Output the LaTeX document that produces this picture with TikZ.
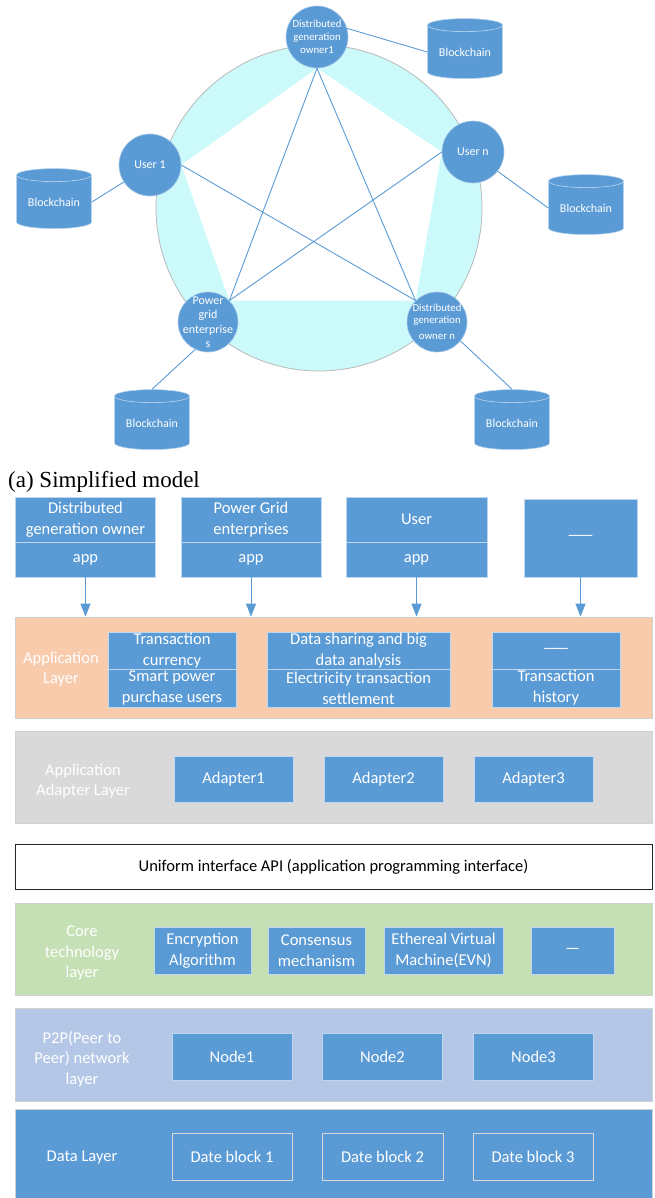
\documentclass[tikz,border=0pt]{standalone}
\usepackage{fontspec}
\setmainfont{Carlito}
\newfontfamily\capfont{Liberation Serif}
\usetikzlibrary{shapes.geometric,arrows.meta,backgrounds}
\definecolor{blu}{RGB}{91,155,213}
\definecolor{cyanfill}{RGB}{204,250,251}
\definecolor{peach}{RGB}{248,203,173}
\definecolor{grayl}{RGB}{217,217,217}
\definecolor{greenl}{RGB}{197,224,180}
\definecolor{bluel}{RGB}{180,199,231}
\definecolor{ringgray}{RGB}{185,185,185}
\newcommand{\ddash}{—\kern-3.5pt—}
\begin{document}
\begin{tikzpicture}[x=1pt,y=-1pt,
  peer/.style={circle, fill=blu, draw=blu!55!white, line width=0.6pt, minimum size=62pt, inner sep=0pt},
  peertext/.style={text=white, align=center, inner sep=0pt},
  store/.style={cylinder, shape border rotate=90, aspect=0.25, minimum width=75pt, minimum height=60pt,
     cylinder uses custom fill, cylinder body fill=blu, cylinder end fill=blu, draw=blu!45!white,
     line width=0.6pt, text=white, font=\fontsize{12}{14}\selectfont, inner sep=0pt},
  link/.style={draw=blu, line width=0.9pt},
  layer/.style={rectangle, draw=black!18, line width=0.8pt, minimum width=637pt, inner sep=0pt},
  bbox/.style={rectangle, fill=blu, draw=blu!40!white, line width=0.8pt, text=white, align=center,
     inner sep=0pt, font=\fontsize{16.5}{21}\selectfont},
  lbl/.style={text=white, align=center, inner sep=0pt, font=\fontsize{16.5}{20.5}\selectfont},
  arr/.style={draw=blu, line width=1pt, -{Triangle[width=10pt,length=13pt]}},
]
\useasboundingbox (0,0) rectangle (654,1198);

% ---------- network ----------
\node[peer, label={[peertext, font=\fontsize{10.8}{12.8}\selectfont]center:Distributed\\generation\\owner1}] (dg1) at (317,37) {};
\node[peer, label={[peertext, font=\fontsize{12}{14}\selectfont]center:User 1}] (u1) at (150,165) {};
\node[peer, label={[peertext, font=\fontsize{12}{14}\selectfont]center:User n}] (un) at (473,152) {};
\node[peer, minimum size=60pt, label={[peertext, font=\fontsize{12}{14.5}\selectfont]center:Power\\grid\\enterprise\\s}] (pg) at (208,322) {};
\node[peer, minimum size=60pt, label={[peertext, font=\fontsize{10.8}{12}\selectfont]center:Distributed\\generation\\[4pt]owner n}] (dgn) at (437,322) {};

\begin{scope}[on background layer]
  \node[circle, fill=cyanfill, draw=ringgray, line width=0.8pt, minimum size=326pt, inner sep=0pt] (ring) at (319,208) {};
  \fill[white] (dg1.south) -- (un.west) -- (dgn.north west) -- (pg.north east) -- (u1.east) -- cycle;
\end{scope}

\draw[link] (dg1.south) -- (pg.north east);
\draw[link] (dg1.south) -- (dgn.north west);
\draw[link] (u1.east) -- (dgn.north west);
\draw[link] (un.west) -- (pg.north east);

\node[store] (bc1) at (465,52) {Blockchain};
\node[store] (bc0) at (54,202) {Blockchain};
\node[store] (bc2) at (586,208) {Blockchain};
\node[store] (bc3) at (152,423) {Blockchain};
\node[store] (bc4) at (512,423) {Blockchain};

\draw[link] (dg1.16) -- (bc1.west);
\draw[link] (u1.213) -- (bc0.east);
\draw[link] (un.-38) -- (bc2.west);
\draw[link] (pg.245) -- (bc3.north);
\draw[link] (dgn.-39) -- (bc4.north);

\node[anchor=base west, inner sep=0pt, font=\capfont\fontsize{23}{26}\selectfont] (cap) at (8,487) {(a) Simplified model};

% ---------- top boxes ----------
\node[bbox, minimum width=140pt, minimum height=45pt] (dgoT) at (85.5,519.5) {Distributed\\generation owner};
\node[bbox, minimum width=140pt, minimum height=35pt] (dgoB) at (85.5,559.5) {app};
\node[bbox, minimum width=140pt, minimum height=45pt] (pgeT) at (251,519.5) {Power Grid\\enterprises};
\node[bbox, minimum width=140pt, minimum height=35pt] (pgeB) at (251,559.5) {app};
\node[bbox, minimum width=141pt, minimum height=45pt] (usrT) at (416.5,519.5) {User};
\node[bbox, minimum width=141pt, minimum height=35pt] (usrB) at (416.5,559.5) {app};
\node[bbox, minimum width=113pt, minimum height=78pt] (oth) at (580.5,538) {\ddash};

% ---------- application layer ----------
\node[layer, fill=peach, minimum height=101pt] (appl) at (333.5,667.5) {};
\node[lbl] (appllbl) at (61,669) {Application\\Layer};
\node[bbox, minimum width=128pt, minimum height=37pt] (txc) at (172,650.5) {Transaction\\currency};
\node[bbox, minimum width=128pt, minimum height=38pt] (spu) at (172,688) {Smart power\\purchase users};
\node[bbox, minimum width=183pt, minimum height=37pt] (dsb) at (358.5,650.5) {Data sharing and big\\data analysis};
\node[bbox, minimum width=183pt, minimum height=38pt] (ets) at (358.5,688) {Electricity transaction\\settlement};
\node[bbox, minimum width=128pt, minimum height=37pt] (dsh) at (556,650.5) {\ddash};
\node[bbox, minimum width=128pt, minimum height=38pt] (thi) at (556,688) {Transaction\\history};

\draw[arr] (dgoB.south) -- (dgoB.south |- appl.north);
\draw[arr] (pgeB.south) -- (pgeB.south |- appl.north);
\draw[arr] (usrB.south) -- (usrB.south |- appl.north);
\draw[arr] (oth.south) -- (oth.south |- appl.north);

% ---------- adapter layer ----------
\node[layer, fill=grayl, minimum height=92pt] (adl) at (333.5,777) {};
\node[lbl] (adllbl) at (83,781) {Application\\Adapter Layer};
\node[bbox, minimum width=119pt, minimum height=46pt] (ad1) at (233.5,779) {Adapter1};
\node[bbox, minimum width=119pt, minimum height=46pt] (ad2) at (383.5,779) {Adapter2};
\node[bbox, minimum width=119pt, minimum height=46pt] (ad3) at (533.5,779) {Adapter3};

% ---------- API ----------
\node[rectangle, draw=black!85, line width=0.8pt, fill=white, minimum width=637pt, minimum height=45pt,
      inner sep=0pt, font=\fontsize{16.5}{20}\selectfont] (api) at (333.5,866.5)
      {Uniform interface API (application programming interface)};

% ---------- core layer ----------
\node[layer, fill=greenl, minimum height=92pt] (core) at (333.5,949) {};
\node[lbl] (corelbl) at (82,953) {Core\\technology\\layer};
\node[bbox, minimum width=97pt, minimum height=47pt] (enc) at (202.5,950.5) {Encryption\\Algorithm};
\node[bbox, minimum width=97pt, minimum height=47pt] (cons) at (316.5,950.5) {Consensus\\mechanism};
\node[bbox, minimum width=119pt, minimum height=47pt] (evm) at (443.5,950.5) {Ethereal Virtual\\Machine(EVN)};
\node[bbox, minimum width=83pt, minimum height=47pt] (cdash) at (572.5,950.5) {—};

% ---------- P2P layer ----------
\node[layer, fill=bluel, minimum height=93pt] (p2p) at (333.5,1054.5) {};
\node[lbl] (p2plbl) at (82,1059) {P2P(Peer to\\Peer) network\\layer};
\node[bbox, minimum width=120pt, minimum height=47pt] (n1) at (232,1056.5) {Node1};
\node[bbox, minimum width=120pt, minimum height=47pt] (n2) at (382.5,1056.5) {Node2};
\node[bbox, minimum width=120pt, minimum height=47pt] (n3) at (533.5,1056.5) {Node3};

% ---------- data layer ----------
\node[layer, fill=blu, minimum height=100pt] (data) at (333.5,1159) {};
\node[lbl] (datalbl) at (82,1158) {Data Layer};
\node[bbox, fill=none, draw=black!15, minimum width=120pt, minimum height=47pt] (db1) at (232,1156.5) {Date block 1};
\node[bbox, fill=none, draw=black!15, minimum width=121pt, minimum height=47pt] (db2) at (382.5,1156.5) {Date block 2};
\node[bbox, fill=none, draw=black!15, minimum width=120pt, minimum height=47pt] (db3) at (533,1156.5) {Date block 3};
\end{tikzpicture}
\end{document}
